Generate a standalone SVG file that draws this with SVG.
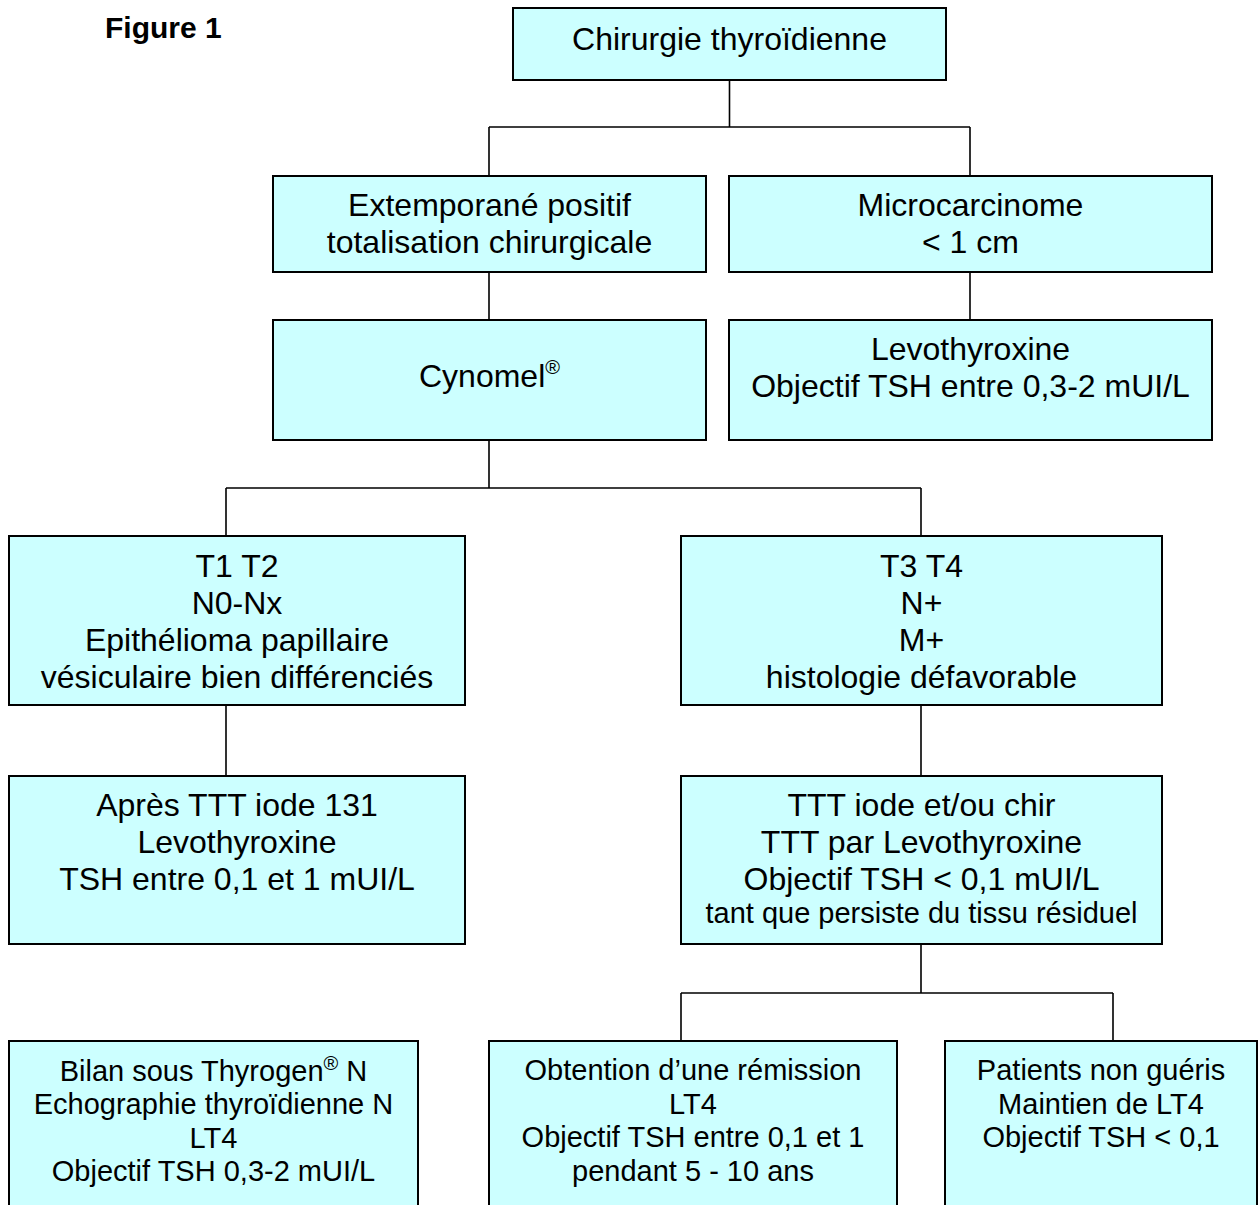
<svg xmlns="http://www.w3.org/2000/svg" width="1260" height="1205" viewBox="0 0 1260 1205">
<style>
.box{fill:#CCFFFF;stroke:#000;stroke-width:2}
.t{font-family:"Liberation Sans",Arial,sans-serif;font-size:32px;fill:#000;text-anchor:middle}
.s{font-size:29px}
.sup{font-size:20px}
.conn{fill:none;stroke:#000;stroke-width:1.6}
</style>
<rect width="1260" height="1205" fill="#fff"/>
<text x="105" y="38" font-family="Liberation Sans,Arial,sans-serif" font-size="30" font-weight="bold">Figure 1</text>
<g id="connectors" class="conn">
<path d="M729.5 80V127M489 127H970M489 127V176M970 127V176"/>
<path d="M489 272V320M970 272V320"/>
<path d="M489 440V488M226 488H921M226 488V536M921 488V536"/>
<path d="M226 705V776M921 705V776"/>
<path d="M921 944V993M681 993H1113M681 993V1041M1113 993V1041"/>
</g>
<g id="n-chirurgie"><rect class="box" x="513" y="8" width="433" height="72"/>
<text class="t" x="729.5" y="50">Chirurgie thyroïdienne</text></g>
<g id="n-extemporane"><rect class="box" x="273" y="176" width="433" height="96"/>
<text class="t" x="489.5" y="216">Extemporané positif</text>
<text class="t" x="489.5" y="253">totalisation chirurgicale</text></g>
<g id="n-micro"><rect class="box" x="729" y="176" width="483" height="96"/>
<text class="t" x="970.5" y="216">Microcarcinome</text>
<text class="t" x="970.5" y="253">&lt; 1 cm</text></g>
<g id="n-cynomel"><rect class="box" x="273" y="320" width="433" height="120"/>
<text class="t" x="489.5" y="387">Cynomel<tspan class="sup" dy="-13">®</tspan></text></g>
<g id="n-levo1"><rect class="box" x="729" y="320" width="483" height="120"/>
<text class="t" x="970.5" y="360">Levothyroxine</text>
<text class="t" x="970.5" y="397">Objectif TSH entre 0,3-2 mUI/L</text></g>
<g id="n-t1t2"><rect class="box" x="9" y="536" width="456" height="169"/>
<text class="t" x="237" y="577">T1 T2</text>
<text class="t" x="237" y="614">N0-Nx</text>
<text class="t" x="237" y="651">Epithélioma papillaire</text>
<text class="t" x="237" y="688">vésiculaire bien différenciés</text></g>
<g id="n-t3t4"><rect class="box" x="681" y="536" width="481" height="169"/>
<text class="t" x="921.5" y="577">T3 T4</text>
<text class="t" x="921.5" y="614">N+</text>
<text class="t" x="921.5" y="651">M+</text>
<text class="t" x="921.5" y="688">histologie défavorable</text></g>
<g id="n-apres"><rect class="box" x="9" y="776" width="456" height="168"/>
<text class="t" x="237" y="816">Après TTT iode 131</text>
<text class="t" x="237" y="853">Levothyroxine</text>
<text class="t" x="237" y="890">TSH entre 0,1 et 1 mUI/L</text></g>
<g id="n-ttt"><rect class="box" x="681" y="776" width="481" height="168"/>
<text class="t" x="921.5" y="816">TTT iode et/ou chir</text>
<text class="t" x="921.5" y="853">TTT par Levothyroxine</text>
<text class="t" x="921.5" y="890">Objectif TSH &lt; 0,1 mUI/L</text>
<text class="t s" x="921.5" y="923">tant que persiste du tissu résiduel</text></g>
<g id="n-bilan"><rect class="box" x="9" y="1041" width="409" height="180"/>
<text class="t s" x="213.5" y="1081">Bilan sous Thyrogen<tspan class="sup" dy="-11">®</tspan><tspan dy="11"> N</tspan></text>
<text class="t s" x="213.5" y="1114">Echographie thyroïdienne N</text>
<text class="t s" x="213.5" y="1148">LT4</text>
<text class="t s" x="213.5" y="1181">Objectif TSH 0,3-2 mUI/L</text></g>
<g id="n-remission"><rect class="box" x="489" y="1041" width="408" height="180"/>
<text class="t s" x="693" y="1080">Obtention d’une rémission</text>
<text class="t s" x="693" y="1114">LT4</text>
<text class="t s" x="693" y="1147">Objectif TSH entre 0,1 et 1</text>
<text class="t s" x="693" y="1181">pendant 5 - 10 ans</text></g>
<g id="n-nongueris"><rect class="box" x="945" y="1041" width="312" height="180"/>
<text class="t s" x="1101" y="1080">Patients non guéris</text>
<text class="t s" x="1101" y="1114">Maintien de LT4</text>
<text class="t s" x="1101" y="1147">Objectif TSH &lt; 0,1</text></g>
</svg>
